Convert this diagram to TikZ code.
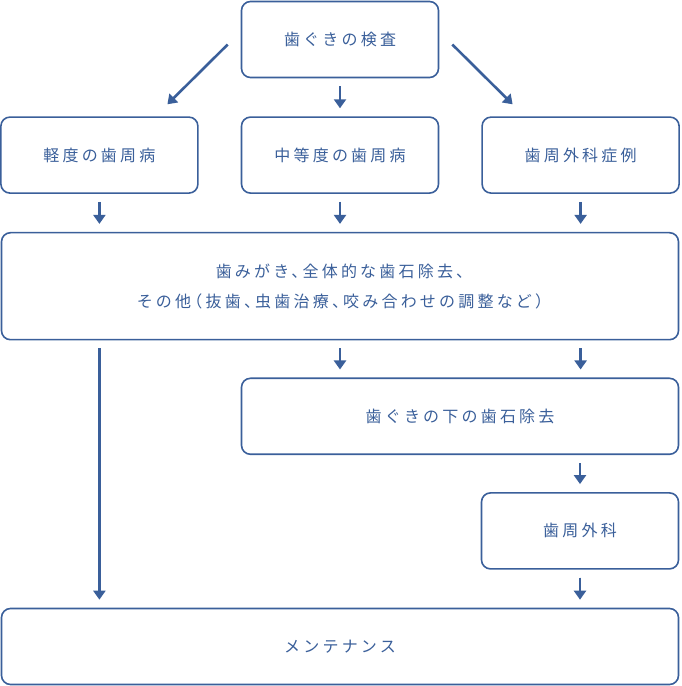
\documentclass[tikz,border=0pt]{standalone}
\usepackage{fontspec}
\setmainfont{Noto Sans CJK JP}[LetterSpace=20,RawFeature=+halt]
\usetikzlibrary{arrows.meta,positioning}
\definecolor{perioblue}{HTML}{3A5F9A}

\begin{document}
\begin{tikzpicture}[x=1pt,y=1pt,>={Triangle[width=12pt,length=9pt]},node distance=38pt,
  main node/.style={rectangle,rounded corners=9pt,draw=perioblue,line width=1.6pt,fill=white,
    text=perioblue,inner sep=0pt,minimum width=197pt,minimum height=76pt,
    font=\fontsize{16}{30}\selectfont,align=center},
  wide node/.style={main node,minimum width=677pt},
  flow arrow/.style={->,draw=perioblue,fill=perioblue,line width=2.6pt,shorten >=8pt,shorten <=8pt}]
  \useasboundingbox (0,0) rectangle (681,686);
  \node[main node] (1) at (340,646.5) {歯ぐきの検査};
  \node[main node] (3) [below=of 1] {中等度の歯周病};
  \node[main node] (2) [left=42pt of 3] {軽度の歯周病};
  \node[main node] (4) [right=42pt of 3] {歯周外科症例};
  \node[wide node,minimum height=107pt] (5) [below=of 3]
    {歯みがき、全体的な歯石除去、\\その他（抜歯、虫歯治療、咬み合わせの調整など）};
  \node[main node,minimum width=437pt] (6) [below left=37pt and 0pt of 5.south east] {歯ぐきの下の歯石除去};
  \node[main node] (7) [below left=37pt and 0pt of 6.south east] {歯周外科};
  \node[wide node] (8) [below left=38pt and 0pt of 7.south east] {メンテナンス};

  \draw[flow arrow,shorten <=0pt,shorten >=0pt] ([shift={(-13pt,-5pt)}]1.west) -- ([shift={(68pt,12pt)}]2.north);
  \draw[flow arrow] (1) -- (3);
  \draw[flow arrow,shorten <=0pt,shorten >=0pt] ([shift={(13pt,-5pt)}]1.east) -- ([shift={(-68pt,12pt)}]4.north);
  \draw[flow arrow] (2.south) -- (2.south |- 5.north);
  \draw[flow arrow] (3.south) -- (3.south |- 5.north);
  \draw[flow arrow] (4.south) -- (4.south |- 5.north);
  \draw[flow arrow] (5.south -| 2) -- (8.north -| 2);
  \draw[flow arrow] (5.south -| 3) -- (6.north -| 3);
  \draw[flow arrow] (5.south -| 4) -- (6.north -| 4);
  \draw[flow arrow] (6.south -| 7) -- (7.north);
  \draw[flow arrow] (7.south) -- (8.north -| 7);
\end{tikzpicture}
\end{document}
